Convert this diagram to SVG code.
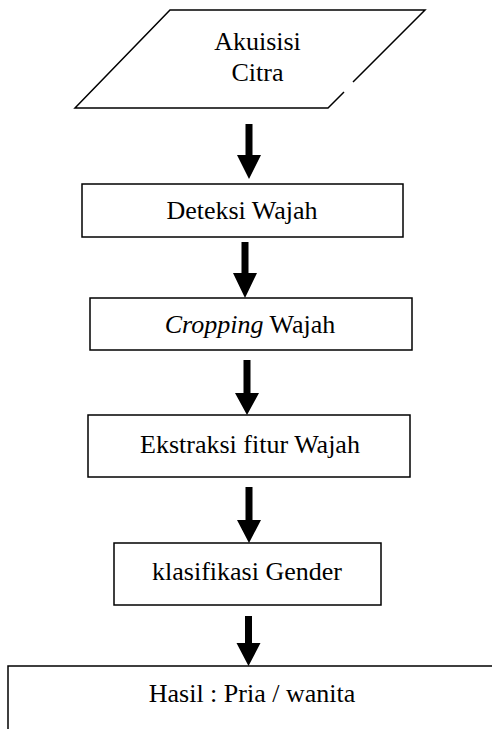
<svg xmlns="http://www.w3.org/2000/svg" width="492" height="729" viewBox="0 0 492 729">
<style>
.box{fill:#fff;stroke:#000;stroke-width:1.5}
.t{font-family:"Liberation Serif","Times New Roman","DejaVu Serif",serif;font-size:26px;fill:#000;text-anchor:middle}
.arr{fill:#000;stroke:none}
</style>
<rect width="492" height="729" fill="#fff"/>
<g id="akuisisi">
<path class="box" d="M353,82 L425,10 L170,10 L75,108 L328,108 L344,92" fill="none"/>
<text class="t" x="257.5" y="50">Akuisisi</text>
<text class="t" x="257.5" y="81">Citra</text>
</g>
<g id="deteksi">
<rect class="box" x="82" y="184" width="321" height="53"/>
<text class="t" x="242" y="219">Deteksi Wajah</text>
</g>
<g id="cropping">
<rect class="box" x="90" y="298" width="322" height="52"/>
<text class="t" x="250" y="333"><tspan font-style="italic">Cropping</tspan> Wajah</text>
</g>
<g id="ekstraksi">
<rect class="box" x="88" y="415" width="322" height="62"/>
<text class="t" x="250" y="453">Ekstraksi fitur Wajah</text>
</g>
<g id="klasifikasi">
<rect class="box" x="114" y="543" width="267" height="62"/>
<text class="t" x="247" y="580">klasifikasi Gender</text>
</g>
<g id="hasil">
<path class="box" d="M8,729 L8,666 L492,666" fill="none"/>
<text class="t" x="252" y="702">Hasil : Pria / wanita</text>
</g>
<g id="connectors">
<polygon class="arr" points="245.5,124 252.5,124 252.5,155 261,155 249,179 237,155 245.5,155"/>
<polygon class="arr" points="241.5,242 248.5,242 248.5,273 257,273 245,298 233,273 241.5,273"/>
<polygon class="arr" points="243.5,360 250.5,360 250.5,393 259,393 247,415 235,393 243.5,393"/>
<polygon class="arr" points="245.5,487 252.5,487 252.5,520 261,520 249,543 237,520 245.5,520"/>
<polygon class="arr" points="245,616 252,616 252,643 260.5,643 248.5,666 236.5,643 245,643"/>
</g>
</svg>
